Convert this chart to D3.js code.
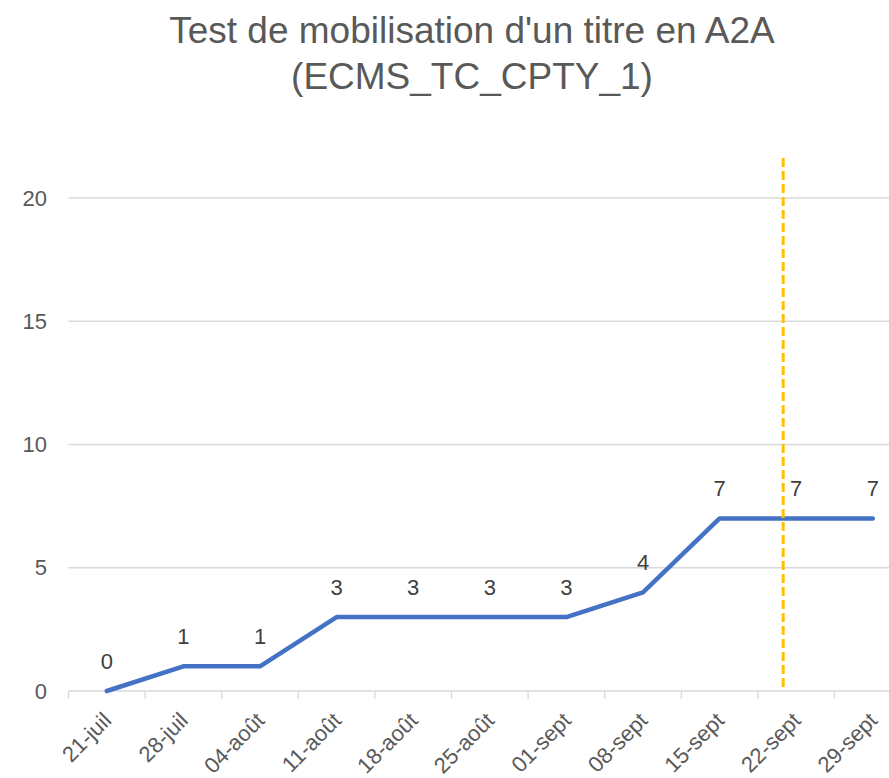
<!DOCTYPE html>
<html>
<head>
<meta charset="utf-8">
<script src="https://cdn.jsdelivr.net/npm/d3@7"></script>
<style>
  body { margin: 0; background: #fff; }
  svg { font-family: "Liberation Sans", Arial, sans-serif; }
</style>
</head>
<body>
<svg width="889" height="778"></svg>
<script>
// data
const dates = ['21-juil', '28-juil', '04-août', '11-août', '18-août', '25-août',
               '01-sept', '08-sept', '15-sept', '22-sept', '29-sept'];
const values = [0, 1, 1, 3, 3, 3, 3, 4, 7, 7, 7];
const yTicks = [0, 5, 10, 15, 20];
const markerPos = 8.83; // dashed line position, in weeks from 21-juil

const svg = d3.select('svg');
const margin = { left: 68.5, top: 198, bottom: 691 };

const x = d3.scaleBand()
  .domain(dates)
  .range([margin.left, margin.left + 11 * 76.6]);

const xPos = d3.scaleLinear()
  .domain([0, dates.length - 1])
  .range([x(dates[0]) + x.bandwidth() / 2, x(dates[dates.length - 1]) + x.bandwidth() / 2]);

const y = d3.scaleLinear()
  .domain([0, 20])
  .range([margin.bottom, margin.top]);

// title
const title = svg.append('text')
  .attr('x', 472)
  .attr('text-anchor', 'middle')
  .attr('fill', '#595959')
  .attr('font-size', 37);
title.append('tspan').attr('x', 472).attr('y', 43).text("Test de mobilisation d'un titre en A2A");
title.append('tspan').attr('x', 472).attr('y', 89).text('(ECMS_TC_CPTY_1)');

// gridlines
svg.append('g')
  .selectAll('line')
  .data(yTicks.filter(d => d > 0))
  .enter()
  .append('line')
  .attr('x1', margin.left)
  .attr('x2', 889)
  .attr('y1', d => y(d))
  .attr('y2', d => y(d))
  .attr('stroke', '#d9d9d9')
  .attr('stroke-width', 1.3);

// y labels
svg.append('g')
  .selectAll('text')
  .data(yTicks)
  .enter()
  .append('text')
  .attr('x', 47)
  .attr('y', d => y(d))
  .attr('dy', '0.35em')
  .attr('text-anchor', 'end')
  .attr('fill', '#595959')
  .attr('font-size', 22)
  .text(d => d);

// x axis
const xAxis = svg.append('g')
  .attr('transform', `translate(0,${margin.bottom})`)
  .call(d3.axisBottom(x).tickSize(0).tickFormat(''));
xAxis.select('.domain')
  .attr('stroke', '#d9d9d9')
  .attr('stroke-width', 1.3)
  .attr('d', `M${margin.left},0H889`);

svg.append('g')
  .selectAll('line')
  .data(dates)
  .enter()
  .append('line')
  .attr('x1', d => x(d))
  .attr('x2', d => x(d))
  .attr('y1', margin.bottom)
  .attr('y2', margin.bottom + 8)
  .attr('stroke', '#d9d9d9')
  .attr('stroke-width', 1.3);

svg.append('g')
  .selectAll('text')
  .data(dates)
  .enter()
  .append('text')
  .attr('transform', d => `translate(${x(d) + x.bandwidth() / 2 - 5},${margin.bottom + 20}) rotate(-45)`)
  .attr('text-anchor', 'end')
  .attr('dy', '0.7em')
  .attr('fill', '#595959')
  .attr('font-size', 22)
  .text(d => d);

// line
const line = d3.line()
  .x((d, i) => x(dates[i]) + x.bandwidth() / 2)
  .y(d => y(d));

svg.append('path')
  .datum(values)
  .attr('d', line)
  .attr('fill', 'none')
  .attr('stroke', '#4472c4')
  .attr('stroke-width', 4.5)
  .attr('stroke-linejoin', 'round')
  .attr('stroke-linecap', 'round');

// dashed marker
svg.append('line')
  .attr('x1', xPos(markerPos))
  .attr('x2', xPos(markerPos))
  .attr('y1', 158)
  .attr('y2', margin.bottom)
  .attr('stroke', '#ffc000')
  .attr('stroke-width', 3)
  .attr('stroke-dasharray', '9,4');

// data labels
svg.append('g')
  .selectAll('text')
  .data(values)
  .enter()
  .append('text')
  .attr('x', (d, i) => x(dates[i]) + x.bandwidth() / 2)
  .attr('y', d => y(d) - 22)
  .attr('text-anchor', 'middle')
  .attr('fill', '#404040')
  .attr('font-size', 22)
  .text(d => d);
</script>
</body>
</html>
